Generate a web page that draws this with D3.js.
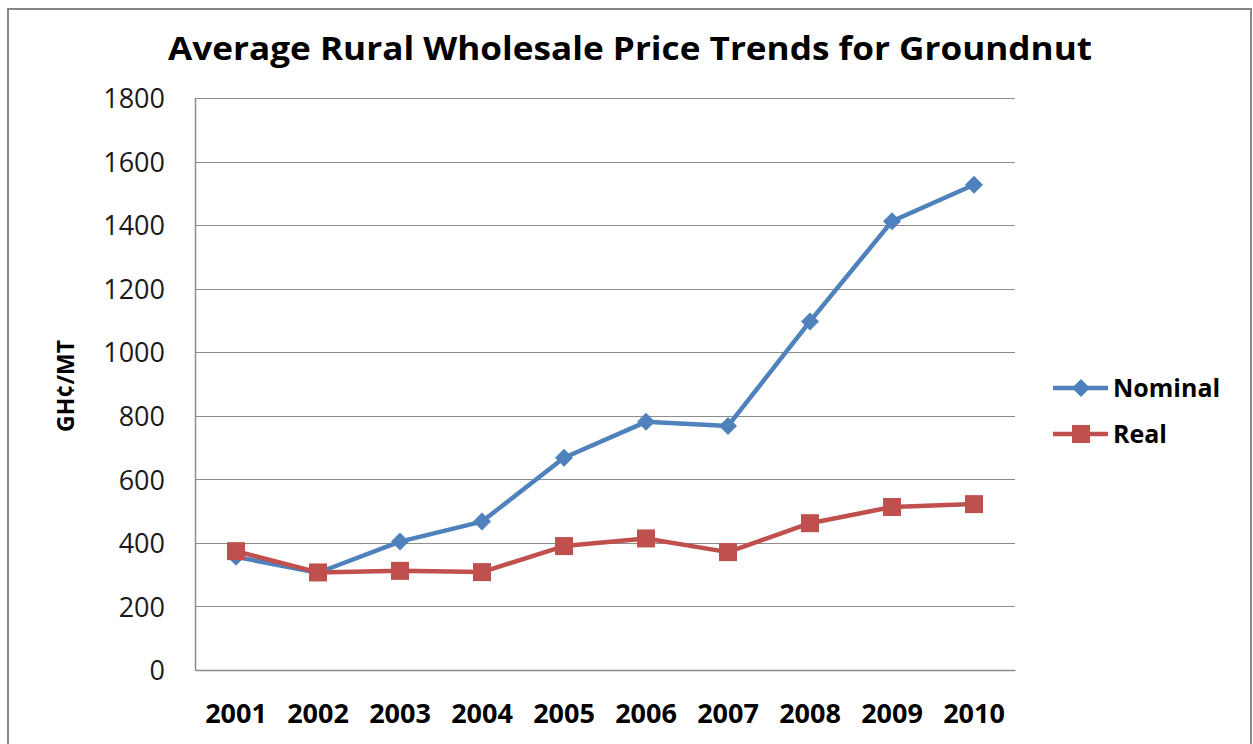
<!DOCTYPE html>
<html><head><meta charset="utf-8">
<script src="https://cdn.jsdelivr.net/npm/d3@7"></script>
<style>body{margin:0;background:#fff;}svg{display:block;font-family:"Open Sans",sans-serif;}</style>
</head><body>
<svg id="c" width="1253" height="744"></svg>
<script>
const years = ["2001","2002","2003","2004","2005","2006","2007","2008","2009","2010"];
const nominal = [356, 306, 404, 467, 668, 781, 768, 1097, 1412, 1527];
const real = [374, 307, 312, 308, 390, 414, 371, 462, 513, 522];
const yTicks = [0, 200, 400, 600, 800, 1000, 1200, 1400, 1600, 1800];
const seriesNames = ["Nominal", "Real"];
const titleText = "Average Rural Wholesale Price Trends for Groundnut";
const yTitle = "GH¢/MT";

const svg = d3.select("#c");
const blue = "#4F81BD", red = "#C0504D", grid = "#8c8c8c";

svg.append("rect").attr("x", 8).attr("y", 9).attr("width", 1243).attr("height", 760)
  .attr("fill", "none").attr("stroke", "#878787").attr("stroke-width", 2);

const L = 195, R = 1015, T = 98, B = 670;
const x = d3.scaleBand().domain(years).range([L, R]);
const y = d3.scaleLinear().domain([0, 1800]).range([B, T]);

// gridlines
svg.append("g").selectAll("line").data(yTicks.filter(d => d > 0)).join("line")
  .attr("x1", L).attr("x2", R).attr("y1", d => Math.round(y(d)) + 0.5).attr("y2", d => Math.round(y(d)) + 0.5)
  .attr("stroke", grid).attr("stroke-width", 1);

// y axis
const ya = svg.append("g").attr("transform", `translate(${L},0)`)
  .call(d3.axisLeft(y).tickValues(yTicks).tickSize(0).tickPadding(30).tickFormat(d3.format("d")));
ya.select(".domain").attr("stroke", grid).attr("stroke-width", 1.5);
ya.selectAll("text").attr("font-size", 27).attr("fill", "#1a1a1a").attr("dy", "0.36em")
  .attr("font-family", "Open Sans");

// x axis
const xa = svg.append("g").attr("transform", `translate(0,${B})`)
  .call(d3.axisBottom(x).tickSize(0).tickPadding(34));
xa.select(".domain").attr("stroke", grid).attr("stroke-width", 1.5);
xa.selectAll("text").attr("font-size", 27).attr("font-weight", "bold").attr("fill", "#000")
  .attr("font-family", "Open Sans");

// lines
const line = d3.line().x((d, i) => x(years[i]) + x.bandwidth() / 2).y(d => y(d));
svg.append("path").datum(nominal).attr("d", line).attr("fill", "none").attr("stroke", blue)
  .attr("stroke-width", 4.5).attr("stroke-linejoin", "round");
svg.append("path").datum(real).attr("d", line).attr("fill", "none").attr("stroke", red)
  .attr("stroke-width", 4.5).attr("stroke-linejoin", "round");

const diamond = (cx, cy, r) => `M${cx},${cy - r}L${cx + r},${cy}L${cx},${cy + r}L${cx - r},${cy}Z`;
svg.append("g").selectAll("path").data(nominal).join("path")
  .attr("d", (d, i) => diamond(x(years[i]) + x.bandwidth() / 2, y(d), 9)).attr("fill", blue);
svg.append("g").selectAll("rect").data(real).join("rect")
  .attr("x", (d, i) => x(years[i]) + x.bandwidth() / 2 - 9).attr("y", d => y(d) - 9)
  .attr("width", 18).attr("height", 18).attr("fill", red);

// title
svg.append("text").attr("x", 630).attr("y", 60).attr("text-anchor", "middle")
  .attr("font-size", 32).attr("font-weight", "bold").attr("fill", "#000")
  .attr("textLength", 924).attr("lengthAdjust", "spacingAndGlyphs").text(titleText);

// y title
svg.append("text").attr("transform", "translate(74,386) rotate(-90)").attr("text-anchor", "middle")
  .attr("font-size", 23).attr("font-weight", "bold").attr("fill", "#000").text(yTitle);

// legend
const lg = svg.append("g");
const colors = [blue, red];
seriesNames.forEach((n, i) => {
  const ly = 388 + i * 46;
  lg.append("line").attr("x1", 1053).attr("x2", 1108).attr("y1", ly).attr("y2", ly)
    .attr("stroke", colors[i]).attr("stroke-width", 4.5);
  if (i === 0) lg.append("path").attr("d", diamond(1081, ly, 9)).attr("fill", colors[i]);
  else lg.append("rect").attr("x", 1072).attr("y", ly - 9).attr("width", 18).attr("height", 18).attr("fill", colors[i]);
  lg.append("text").attr("x", 1113).attr("y", ly).attr("dy", "0.36em").attr("font-size", 25)
    .attr("font-weight", "bold").attr("fill", "#000").text(n);
});
</script>
</body></html>
